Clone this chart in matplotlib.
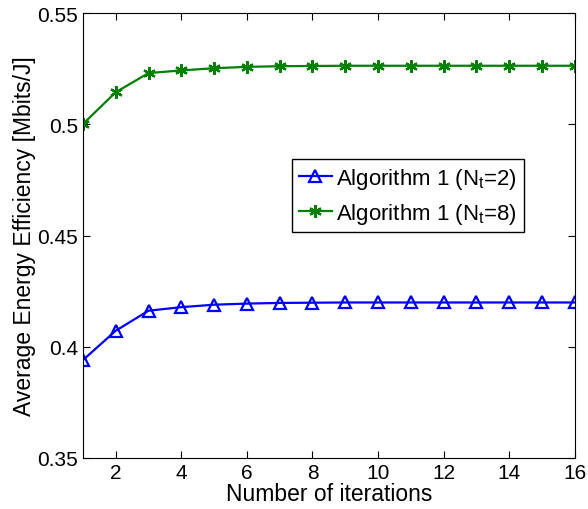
import matplotlib
matplotlib.use('Agg')
import matplotlib.pyplot as plt

plt.rcParams['font.family'] = ['Liberation Sans', 'DejaVu Sans']
plt.rcParams['mathtext.fontset'] = 'custom'
plt.rcParams['mathtext.rm'] = 'Liberation Sans'
plt.rcParams['mathtext.it'] = 'Liberation Sans'

iterations = list(range(1, 17))
ee_nt2 = [0.3940, 0.4072, 0.4162, 0.4178, 0.4189, 0.4194, 0.4197, 0.4198,
          0.4199, 0.4199, 0.4199, 0.4199, 0.4199, 0.4199, 0.4199, 0.4199]
ee_nt8 = [0.5001, 0.5144, 0.5230, 0.5242, 0.5252, 0.5258, 0.5261, 0.5262,
          0.5263, 0.5263, 0.5263, 0.5263, 0.5263, 0.5263, 0.5263, 0.5263]
labels = [r'Algorithm 1 (N$_\mathrm{t}$=2)', r'Algorithm 1 (N$_\mathrm{t}$=8)']
yticks = [0.35, 0.4, 0.45, 0.5, 0.55]
ytick_labels = ['0.35', '0.4', '0.45', '0.5', '0.55']

fig = plt.figure(figsize=(5.88, 5.1), dpi=100)
ax = fig.add_axes([0.141, 0.1, 0.8367, 0.8725])

ax.plot(iterations, ee_nt2, color='#0000ff', lw=1.6, marker='^', ms=9,
        mfc='none', mew=1.6, label=labels[0])
ax.plot(iterations, ee_nt8, color='#008000', lw=1.6, marker=(6, 2, 0), ms=9,
        mew=1.6, label=labels[1])

ax.set_xlim(1, 16)
ax.set_ylim(0.35, 0.55)
ax.set_xticks(range(2, 17, 2))
ax.set_yticks(yticks)
ax.set_yticklabels(ytick_labels)
ax.tick_params(direction='in', top=True, right=True, labelsize=15, length=5)
ax.set_xlabel('Number of iterations', fontsize=16.5, labelpad=0)
ax.set_ylabel('Average Energy Efficiency [Mbits/J]', fontsize=16.5, labelpad=1)

leg = ax.legend(loc='upper left', bbox_to_anchor=(0.425, 0.672), borderaxespad=0,
                fontsize=16, fancybox=False, framealpha=1, edgecolor='black',
                handlelength=1.5, handletextpad=0.2, borderpad=0.3, labelspacing=0.45)
leg.get_frame().set_linewidth(1.0)

fig.savefig('out.png', dpi=100)
